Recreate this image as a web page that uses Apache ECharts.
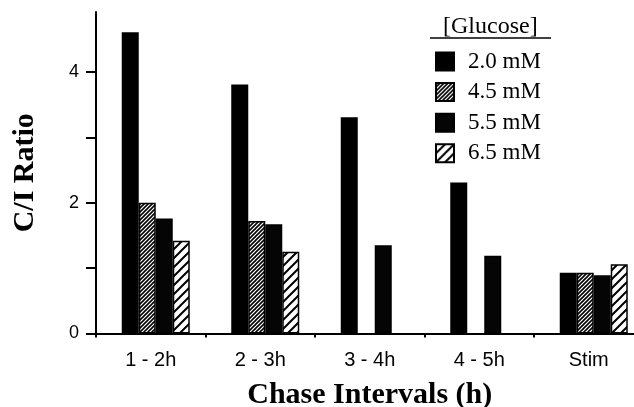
<!DOCTYPE html>
<html>
<head>
<meta charset="utf-8">
<script src="https://cdn.jsdelivr.net/npm/echarts@6/dist/echarts.min.js"></script>
<style>html,body{margin:0;padding:0;background:#fff}#c{width:634px;height:407px}</style>
</head>
<body>
<div id="c"></div>
<script>
// ---- data ----
var categories = ['1 - 2h', '2 - 3h', '3 - 4h', '4 - 5h', 'Stim'];
var seriesNames = ['2.0 mM', '4.5 mM', '5.5 mM', '6.5 mM'];
var glucose20 = [4.61, 3.81, 3.31, 2.31, 0.93];
var glucose45 = [2.00, 1.72, null, null, 0.93];
var glucose55 = [1.76, 1.67, 1.35, 1.19, 0.89];
var glucose65 = [1.42, 1.25, null, null, 1.06];
var yTickValues = [0, 1, 2, 3, 4];
var yLabelValues = [0, 2, 4];
var legendTitle = '[Glucose]';
var yTitle = 'C/I Ratio';
var xTitle = 'Chase Intervals (h)';

function hatch(size, lw) {
  var c = document.createElement('canvas');
  c.width = size; c.height = size;
  var g = c.getContext('2d');
  g.fillStyle = '#fff'; g.fillRect(0, 0, size, size);
  g.strokeStyle = '#000'; g.lineWidth = lw;
  g.beginPath();
  g.moveTo(-1, size + 1); g.lineTo(size + 1, -1);
  g.moveTo(-1, 1); g.lineTo(1, -1);
  g.moveTo(size - 1, size + 1); g.lineTo(size + 1, size - 1);
  g.stroke();
  return {image: c, repeat: 'repeat'};
}
var denseHatch = hatch(4, 1.6);
var sparseHatch = hatch(9, 2);

var YMAX = 4.92;
var chart = echarts.init(document.getElementById('c'), null, {renderer: 'canvas'});
var fills = ['#000', denseHatch, '#050505', sparseHatch];
var datas = [glucose20, glucose45, glucose55, glucose65];
var series = seriesNames.map(function (n, i) {
  return {
    name: n, type: 'bar', xAxisIndex: 1, yAxisIndex: 1,
    data: datas[i], barWidth: 17, barGap: '0%',
    itemStyle: {color: fills[i], borderColor: '#000', borderWidth: 1.5},
    emphasis: {disabled: true}, animation: false
  };
});

chart.setOption({
  animation: false,
  grid: [
    {left: 96, right: -9.5, top: 12, bottom: 73.5, outerBoundsMode: 'none', containLabel: false},
    {left: 101, right: -14.5, top: 12, bottom: 73.5, outerBoundsMode: 'none', containLabel: false}
  ],
  xAxis: [
    {type: 'category', gridIndex: 0, data: categories,
     axisLine: {lineStyle: {color: '#000', width: 2}},
     axisTick: {show: true, length: 4, lineStyle: {color: '#000', width: 2}},
     axisLabel: {color: '#000', fontFamily: 'Liberation Sans', fontSize: 20, margin: 17},
     name: xTitle, nameLocation: 'middle', nameGap: 47,
     nameTextStyle: {fontFamily: 'Liberation Serif', fontWeight: 'bold', fontSize: 30, color: '#000'}
    },
    {type: 'category', gridIndex: 1, data: categories, show: false}
  ],
  yAxis: [
    {type: 'value', gridIndex: 0, min: 0, max: YMAX, interval: 1,
     splitLine: {show: false},
     axisLine: {show: true, lineStyle: {color: '#000', width: 2}},
     axisTick: {show: true, length: 10, customValues: yTickValues, lineStyle: {color: '#000', width: 2}},
     axisLabel: {color: '#000', fontFamily: 'Liberation Sans', fontSize: 18, margin: 17, customValues: yLabelValues},
     name: yTitle, nameLocation: 'middle', nameGap: 56, nameRotate: 90,
     nameTextStyle: {fontFamily: 'Liberation Serif', fontWeight: 'bold', fontSize: 30, color: '#000'}
    },
    {type: 'value', gridIndex: 1, min: 0, max: YMAX, show: false, splitLine: {show: false}}
  ],
  legend: {
    orient: 'vertical', left: 430, top: 45, itemWidth: 18, itemHeight: 18, itemGap: 7.6,
    icon: 'rect', data: seriesNames, selectedMode: false,
    textStyle: {fontFamily: 'Liberation Serif', fontSize: 23, color: '#000', lineHeight: 18, padding: [0, 0, 0, 9]}
  },
  graphic: [
    {type: 'text', left: 443, top: 15, style: {text: legendTitle, font: '24px "Liberation Serif"', fill: '#000'}},
    {type: 'line', shape: {x1: 430, y1: 38, x2: 551, y2: 38}, style: {stroke: '#000', lineWidth: 1.5}}
  ],
  series: series
});
</script>
</body>
</html>
